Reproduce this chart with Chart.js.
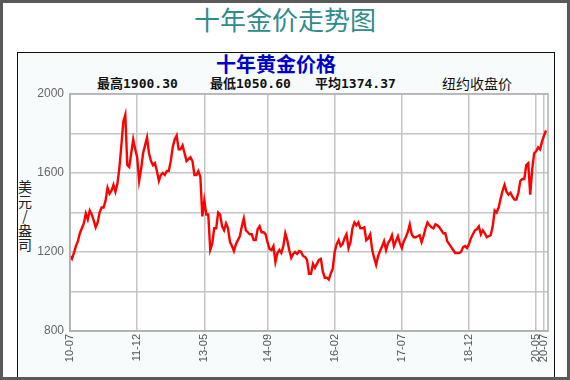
<!DOCTYPE html>
<html>
<head>
<meta charset="utf-8">
<script src="https://cdn.jsdelivr.net/npm/chart.js@4.4.1/dist/chart.umd.min.js"></script>
<style>
  html, body { margin: 0; padding: 0; background: #fff; }
  #frame { position: relative; width: 570px; height: 380px; box-sizing: border-box; border: 3px solid #5a5a5a; background: #fff; overflow: hidden; }
  #pageTitle { position: absolute; left: 0; top: 0px; width: 564px; text-align: center; font-family: "Noto Sans CJK SC", sans-serif; font-size: 26px; line-height: 32px; color: #2e8c8c; }
  #innerBox { position: absolute; left: 14px; top: 49px; width: 536px; height: 330px; border: 1px solid #111; background: #f7fbfb; }
  #chartTitle { position: absolute; left: 210px; top: 48px; width: 126px; text-align: center; font-family: "Noto Sans CJK SC", sans-serif; font-weight: bold; font-size: 20px; line-height: 26px; color: #0000cc; }
  .stat { position: absolute; top: 71px; font-family: "Noto Sans CJK SC", sans-serif; font-size: 13px; line-height: 18px; color: #111; font-weight: bold; white-space: nowrap; }
  .stat span { font-family: "DejaVu Sans Mono", monospace; font-size: 13px; }
  #yTitle { position: absolute; left: 14px; top: 176px; width: 16px; font-family: "Noto Sans CJK SC", sans-serif; font-size: 14px; line-height: 14.5px; color: #222; text-align: center; }
  canvas { position: absolute; left: -3px; top: -3px; }
</style>
</head>
<body>
<div id="frame">
  <div id="pageTitle">十年金价走势图</div>
  <div id="innerBox"></div>
  <div id="chartTitle">十年黄金价格</div>
  <div class="stat" style="left:94px">最高<span id="sMax"></span></div>
  <div class="stat" style="left:207px">最低<span id="sMin"></span></div>
  <div class="stat" style="left:312px">平均<span id="sAvg"></span></div>
  <div class="stat" style="left:439px;font-weight:normal;font-size:14px">纽约收盘价</div>
  <div id="yTitle">美<br>元<br>/<br>盎<br>司</div>
  <canvas id="c" width="570" height="380"></canvas>
</div>
<script>
// Stats shown in header
const statMax = "1900.30";
const statMin = "1050.60";
const statAvg = "1374.37";

// Tick labels on the time axis and their positions (months since 2010-07)
const tickLabels = ["10-07", "11-12", "13-05", "14-09", "16-02", "17-07", "18-12", "20-05", "20-07"];
const tickMonths = [0, 17, 34, 50, 67, 84, 101, 118, 120];

// Y ticks
const yMin = 800, yMax = 2000, yStep = 200;

// Gold price (USD/oz), two readings per month starting 2010-07
const prices = [
  1180, 1165, 1195, 1230, 1255, 1295, 1320, 1345, 1395, 1365, 1410, 1390,
  1360, 1325, 1350, 1400, 1425, 1425, 1460, 1525, 1495, 1510, 1540, 1505,
  1545, 1625, 1740, 1860, 1895, 1640, 1630, 1700, 1770, 1720, 1680, 1560,
  1620, 1700, 1740, 1780, 1700, 1660, 1640, 1650, 1610, 1560, 1590, 1600,
  1590, 1610, 1610, 1660, 1730, 1770, 1790, 1720, 1720, 1740, 1700, 1660,
  1670, 1680, 1660, 1590, 1590, 1610, 1580, 1380, 1460, 1390, 1390, 1210,
  1240, 1320, 1320, 1400, 1390, 1330, 1310, 1345, 1320, 1250, 1230, 1205,
  1240, 1260, 1280, 1330, 1370, 1310, 1300, 1290, 1290, 1260, 1260, 1315,
  1330, 1300, 1300, 1290, 1250, 1215, 1210, 1230, 1150, 1195, 1210, 1195,
  1230, 1295, 1260, 1210, 1170, 1190, 1200, 1190, 1205, 1200, 1180, 1175,
  1160, 1090, 1090, 1140, 1120, 1140, 1160, 1165, 1100, 1070, 1070, 1060,
  1090, 1115, 1200, 1240, 1260, 1230, 1240, 1270, 1290, 1220, 1250, 1320,
  1350, 1335, 1350, 1320, 1320, 1325, 1260, 1270, 1290, 1210, 1170, 1135,
  1180, 1205, 1230, 1255, 1210, 1245, 1260, 1285, 1230, 1255, 1280, 1245,
  1220, 1255, 1275, 1300, 1340, 1290, 1275, 1275, 1280, 1285, 1250, 1280,
  1320, 1350, 1335, 1325, 1320, 1340, 1335, 1325, 1310, 1295, 1295, 1255,
  1240, 1225, 1210, 1195, 1195, 1195, 1200, 1225, 1230, 1220, 1240, 1270,
  1290, 1310, 1315, 1330, 1290, 1310, 1295, 1275, 1280, 1285, 1330, 1410,
  1400, 1425, 1470, 1510, 1540, 1505, 1490, 1500, 1480, 1465, 1465, 1500,
  1560, 1570, 1570, 1640, 1650, 1490, 1620, 1700, 1710, 1730, 1720, 1760,
  1790, 1815
];

document.getElementById('sMax').textContent = statMax;
document.getElementById('sMin').textContent = statMin;
document.getElementById('sAvg').textContent = statAvg;

const points = prices.map((v, i) => ({ x: i / 2, y: v }));

const plotFrame = {
  id: 'plotFrame',
  beforeDraw(chart) {
    const a = chart.chartArea, ctx = chart.ctx;
    ctx.save();
    ctx.fillStyle = '#ffffff';
    ctx.fillRect(a.left, a.top, a.right - a.left, a.bottom - a.top);
    ctx.restore();
  },
  afterDraw(chart) {
    const a = chart.chartArea, ctx = chart.ctx;
    ctx.save();
    ctx.strokeStyle = '#b0b0b0';
    ctx.lineWidth = 1.5;
    ctx.strokeRect(a.left, a.top, a.right - a.left, a.bottom - a.top);
    ctx.restore();
  }
};

new Chart(document.getElementById('c'), {
  type: 'line',
  data: {
    datasets: [{
      data: points,
      borderColor: '#ff0000',
      borderWidth: 2.4,
      pointRadius: 0,
      tension: 0,
      fill: false
    }]
  },
  options: {
    responsive: false,
    devicePixelRatio: 1,
    animation: false,
    layout: { padding: { top: 94, right: 22, left: 0, bottom: 0 } },
    plugins: { legend: { display: false }, tooltip: { enabled: false } },
    scales: {
      x: {
        type: 'linear',
        min: 0,
        max: 121,
        afterBuildTicks(scale) { scale.ticks = tickMonths.map(v => ({ value: v })); },
        afterFit(scale) { scale.height = 49; },
        ticks: {
          autoSkip: false,
          minRotation: 90,
          maxRotation: 90,
          padding: 3,
          color: '#555',
          font: { family: 'Liberation Sans', size: 11 },
          callback: (v, i) => tickLabels[i]
        },
        grid: { color: '#c4c4c4', lineWidth: 1.5, drawTicks: false },
        border: { color: '#b0b0b0', width: 1.5 }
      },
      y: {
        min: yMin,
        max: yMax,
        afterFit(scale) { scale.width = 70; },
        ticks: {
          stepSize: yStep,
          padding: 6,
          color: '#666',
          font: { family: 'Liberation Sans', size: 12 },
          callback: v => (v % 400 === 0 ? String(v) : '')
        },
        grid: { color: '#c4c4c4', lineWidth: 1.5, drawTicks: false },
        border: { color: '#b0b0b0', width: 1.5 }
      }
    }
  },
  plugins: [plotFrame]
});
</script>
</body>
</html>
